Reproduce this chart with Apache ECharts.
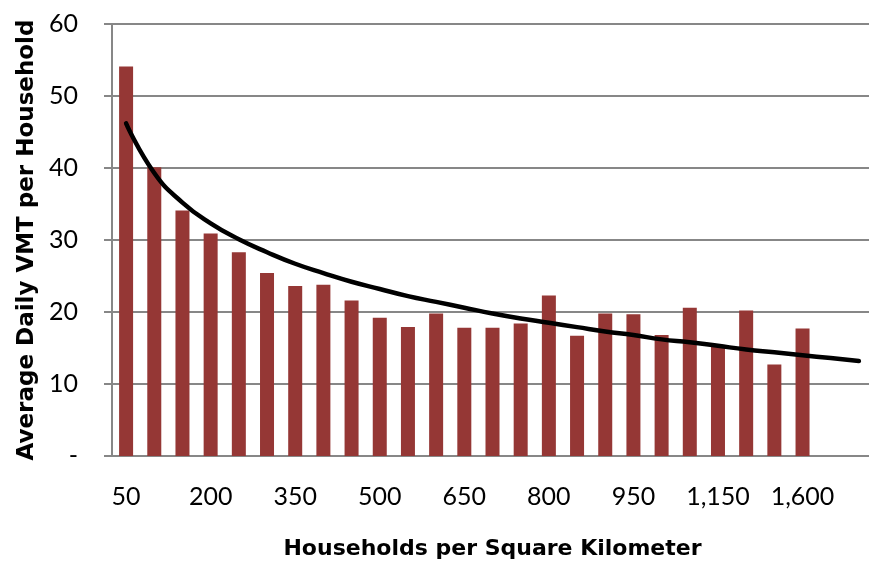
<!DOCTYPE html>
<html>
<head>
<meta charset="utf-8">
<script src="https://cdn.jsdelivr.net/npm/echarts@6/dist/echarts.min.js"></script>
<style>
  html, body { margin: 0; padding: 0; background: #fff; }
  #chart { width: 869px; height: 563px; }
</style>
</head>
<body>
<div id="chart"></div>
<script>
// categories (households per sq km); last two are empty, trendline forecast only
var categories = ['50', '100', '150', '200', '250', '300', '350', '400', '450', '500',
    '550', '600', '650', '700', '750', '800', '850', '900', '950', '1,000',
    '1,050', '1,150', '1,200', '1,300', '1,600', '', ''];

// average daily VMT per household
var vmtValues = [54.1, 40.1, 34.1, 30.9, 28.3, 25.4, 23.6, 23.8, 21.6, 19.2,
    17.9, 19.8, 17.8, 17.8, 18.4, 22.3, 16.7, 19.8, 19.7, 16.8,
    20.6, 15.3, 20.2, 12.7, 17.7, null, null];

// logarithmic trendline
var trendValues = [46.2, 39.3, 35.2, 32.3, 30.1, 28.3, 26.7, 25.4, 24.2, 23.2,
    22.2, 21.4, 20.6, 19.8, 19.1, 18.5, 17.9, 17.3, 16.8, 16.2,
    15.8, 15.3, 14.8, 14.4, 14.0, 13.6, 13.2];

var yTicks = { min: 0, max: 60, interval: 10 };

var chart = echarts.init(document.getElementById('chart'));
var axisGray = '#878787';
var fontName = 'Lato';
var titleFont = 'DejaVu Sans';

var option = {
    animation: false,
    grid: {
        left: 112,
        top: 24,
        width: 761,
        bottom: 107,
        outerBoundsMode: 'none'
    },
    xAxis: {
        type: 'category',
        data: categories,
        name: 'Households per Square Kilometer',
        nameLocation: 'middle',
        nameGap: 82,
        nameTextStyle: {
            fontFamily: titleFont,
            fontWeight: 'bold',
            fontSize: 22,
            color: '#000'
        },
        axisLine: { lineStyle: { color: axisGray, width: 2 } },
        axisTick: {
            interval: 1,
            length: 8,
            lineStyle: { color: axisGray, width: 2 }
        },
        axisLabel: {
            interval: 2,
            margin: 28,
            fontFamily: fontName,
            fontSize: 25,
            color: '#000'
        }
    },
    yAxis: {
        type: 'value',
        min: yTicks.min,
        max: yTicks.max,
        interval: yTicks.interval,
        name: 'Average Daily VMT per Household',
        nameLocation: 'middle',
        nameGap: 73,
        nameTextStyle: {
            fontFamily: titleFont,
            fontWeight: 'bold',
            fontSize: 23,
            color: '#000'
        },
        axisLine: { show: true, lineStyle: { color: axisGray, width: 2 } },
        axisTick: { show: true, length: 8, lineStyle: { color: axisGray, width: 2 } },
        splitLine: { lineStyle: { color: axisGray, width: 2 } },
        axisLabel: {
            margin: 34,
            fontFamily: fontName,
            fontSize: 25,
            color: '#000',
            formatter: function(v) {
                return v === 0 ? '-' : v;
            }
        }
    },
    series: [{
            type: 'bar',
            data: vmtValues,
            barWidth: 14,
            itemStyle: { color: '#953735' }
        },
        {
            type: 'line',
            data: trendValues,
            smooth: true,
            symbol: 'none',
            z: 5,
            lineStyle: { color: '#000', width: 4.5, cap: 'round' }
        }
    ]
};

chart.setOption(option);
</script>
</body>
</html>
